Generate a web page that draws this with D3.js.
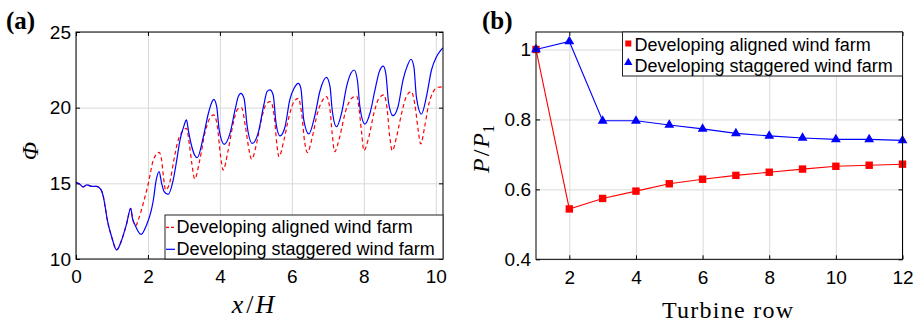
<!DOCTYPE html>
<html>
<head>
<meta charset="utf-8">
<script src="https://cdn.jsdelivr.net/npm/d3@7"></script>
<style>
  body { margin: 0; background: #fff; }
  svg { display: block; }
  .tick text { font-family: "Liberation Sans", Arial, sans-serif; font-size: 19px; fill: #000; }
</style>
</head>
<body>
<div id="chart"></div>
<script>
// ---- panel (a): Phi along x/H ----
const xStaggered = [0, 0.1, 0.2, 0.3, 0.44, 0.57, 0.69, 0.76, 0.81, 0.87, 0.99, 1.13, 1.27, 1.41, 1.52, 1.57, 1.64, 1.81, 1.96, 2.08,
  2.15, 2.22, 2.31, 2.38, 2.45, 2.56, 2.7, 2.8, 2.89, 3.0, 3.07, 3.13, 3.2, 3.3, 3.37, 3.54, 3.68, 3.77, 3.83, 3.91,
  3.98, 4.12, 4.28, 4.42, 4.51, 4.58, 4.67, 4.76, 4.9, 5.06, 5.22, 5.31, 5.39, 5.48, 5.56, 5.67, 5.81, 5.94, 6.06, 6.18,
  6.25, 6.33, 6.47, 6.64, 6.78, 6.96, 7.06, 7.12, 7.24, 7.38, 7.52, 7.64, 7.73, 7.82, 7.89, 8.03, 8.17, 8.31, 8.43, 8.54,
  8.61, 8.69, 8.81, 8.95, 9.09, 9.2, 9.31, 9.39, 9.46, 9.6, 9.74, 9.88, 10.02, 10.13, 10.2];
const phiStaggered = [15.07, 14.95, 14.76, 14.9, 14.8, 14.8, 14.6, 14.12, 13.46, 12.58, 11.47, 10.6, 11.26, 12.36, 13.35, 12.69, 12.25, 11.63, 12.25, 13.1,
  13.9, 15.1, 15.77, 15.0, 14.45, 14.27, 15.2, 16.54, 17.86, 18.8, 19.19, 18.4, 17.6, 16.85, 16.69, 18.08, 19.63, 20.33, 20.55, 20.07,
  18.52, 17.58, 18.3, 19.85, 20.73, 20.95, 20.62, 18.74, 17.64, 18.3, 20.18, 21.06, 21.17, 20.84, 18.96, 18.13, 18.74, 20.5, 21.28, 21.61,
  21.28, 19.19, 18.26, 19.5, 21.1, 22.0, 21.39, 19.85, 18.74, 19.63, 21.39, 22.27, 22.49, 21.83, 20.07, 18.92, 19.63, 21.17, 22.38, 22.75,
  22.27, 20.29, 19.47, 20.07, 21.83, 22.71, 23.2, 22.71, 20.73, 19.58, 20.73, 22.49, 23.37, 23.77, 23.95];

const xAligned = [0, 0.1, 0.2, 0.3, 0.44, 0.57, 0.69, 0.76, 0.81, 0.87, 0.99, 1.13, 1.27, 1.41, 1.52, 1.57, 1.66, 1.73, 1.87, 2.01,
  2.15, 2.31, 2.38, 2.43, 2.49, 2.61, 2.72, 2.84, 2.95, 3.07, 3.15, 3.22, 3.3, 3.44, 3.58, 3.72, 3.83, 3.93, 4.02, 4.09,
  4.23, 4.37, 4.49, 4.6, 4.71, 4.81, 4.88, 5.02, 5.16, 5.3, 5.41, 5.51, 5.59, 5.64, 5.78, 5.92, 6.06, 6.18, 6.27, 6.36,
  6.43, 6.57, 6.71, 6.81, 6.96, 7.06, 7.12, 7.19, 7.33, 7.49, 7.66, 7.8, 7.87, 7.94, 8.0, 8.14, 8.28, 8.42, 8.56, 8.65,
  8.72, 8.79, 8.91, 9.05, 9.18, 9.32, 9.42, 9.51, 9.58, 9.69, 9.79, 9.93, 10.06, 10.2];
const phiAligned = [15.07, 14.95, 14.76, 14.9, 14.8, 14.8, 14.6, 14.12, 13.46, 12.58, 11.47, 10.6, 11.26, 12.36, 13.35, 12.69, 12.2, 12.58, 13.68, 15.0,
  16.54, 17.05, 16.54, 15.44, 14.56, 15.1, 16.54, 17.86, 18.4, 18.64, 17.6, 16.3, 15.29, 16.54, 18.3, 19.3, 19.52, 18.74, 16.76, 15.88,
  17.2, 18.96, 19.89, 20.0, 18.74, 17.2, 16.59, 17.64, 19.3, 20.29, 20.4, 19.41, 17.42, 16.76, 17.86, 19.41, 20.4, 20.62, 19.63, 17.64,
  17.03, 18.08, 19.63, 20.29, 20.73, 19.85, 18.3, 17.09, 18.08, 19.74, 20.62, 20.77, 19.85, 18.3, 17.16, 18.08, 19.63, 20.62, 20.84, 19.85,
  18.08, 17.16, 18.08, 19.63, 20.73, 21.06, 20.18, 18.52, 17.6, 18.74, 20.07, 21.06, 21.35, 21.38];

const xTicksA = [0, 2, 4, 6, 8, 10];
const yTicksA = [10, 15, 20, 25];

// ---- panel (b): P/P1 per turbine row ----
const turbineRows = [1, 2, 3, 4, 5, 6, 7, 8, 9, 10, 11, 12];
const powerAligned = [1.0, 0.544, 0.574, 0.595, 0.616, 0.629, 0.640, 0.649, 0.658, 0.666, 0.669, 0.672];
const powerStaggered = [1.0, 1.023, 0.796, 0.796, 0.784, 0.773, 0.760, 0.753, 0.747, 0.743, 0.743, 0.740];
const xTicksB = [2, 4, 6, 8, 10, 12];
const yTicksB = [0.4, 0.6, 0.8, 1];

const seriesNames = ["Developing aligned wind farm", "Developing staggered wind farm"];

const width = 923, height = 325;
const RED = "#ff0000", BLUE = "#0000ff";

const svg = d3.select("#chart").append("svg")
    .attr("width", width)
    .attr("height", height);

// draws grid, inward ticks on all 4 sides, labels and the box
function drawFrame(x, y, xTicks, yTicks, yFmt, id) {
    const [x0, x1] = x.range();
    const [y0, y1] = y.range(); // y0 bottom, y1 top
    const g = svg.append("g");

    // grid
    g.append("g").attr("transform", `translate(0,${y0})`)
        .call(d3.axisBottom(x).tickValues(xTicks).tickSize(-(y0 - y1)).tickFormat(""))
        .call(s => s.select(".domain").remove())
        .call(s => s.selectAll("line").attr("stroke", "#d9d9d9"));
    g.append("g").attr("transform", `translate(${x0},0)`)
        .call(d3.axisLeft(y).tickValues(yTicks).tickSize(-(x1 - x0)).tickFormat(""))
        .call(s => s.select(".domain").remove())
        .call(s => s.selectAll("line").attr("stroke", "#d9d9d9"));

    // ticks + labels
    g.append("g").attr("transform", `translate(0,${y0})`)
        .call(d3.axisBottom(x).tickValues(xTicks).tickSize(-4).tickPadding(11))
        .call(s => s.select(".domain").remove());
    g.append("g").attr("transform", `translate(0,${y1})`)
        .call(d3.axisTop(x).tickValues(xTicks).tickSize(-4).tickFormat(""))
        .call(s => s.select(".domain").remove());
    g.append("g").attr("transform", `translate(${x0},0)`)
        .call(d3.axisLeft(y).tickValues(yTicks).tickSize(-4).tickPadding(5).tickFormat(yFmt))
        .call(s => s.select(".domain").remove());
    g.append("g").attr("transform", `translate(${x1},0)`)
        .call(d3.axisRight(y).tickValues(yTicks).tickSize(-4).tickFormat(""))
        .call(s => s.select(".domain").remove());

    svg.append("clipPath").attr("id", id)
        .append("rect").attr("x", x0).attr("y", y1).attr("width", x1 - x0).attr("height", y0 - y1);
    return g;
}

function drawBox(x, y) {
    const [x0, x1] = x.range();
    const [y0, y1] = y.range();
    svg.append("rect")
        .attr("x", x0).attr("y", y1)
        .attr("width", x1 - x0).attr("height", y0 - y1)
        .attr("fill", "none").attr("stroke", "#000").attr("stroke-width", 1);
}

// ================= panel (a) =================
const xa = d3.scaleLinear().domain([0, 10.2]).range([76, 443]);
const ya = d3.scaleLinear().domain([10, 25]).range([259, 32]);
drawFrame(xa, ya, xTicksA, yTicksA, d3.format("d"), "clipA");

const lineA = d3.line().curve(d3.curveMonotoneX);
svg.append("path")
    .attr("clip-path", "url(#clipA)")
    .attr("d", lineA(xAligned.map((v, i) => [xa(v), ya(phiAligned[i])])))
    .attr("fill", "none").attr("stroke", RED).attr("stroke-width", 1.2)
    .attr("stroke-dasharray", "4,3");
svg.append("path")
    .attr("clip-path", "url(#clipA)")
    .attr("d", lineA(xStaggered.map((v, i) => [xa(v), ya(phiStaggered[i])])))
    .attr("fill", "none").attr("stroke", BLUE).attr("stroke-width", 1.2);

drawBox(xa, ya);

// legend (a)
const legA = svg.append("g");
legA.append("rect").attr("x", 165).attr("y", 215).attr("width", 278).attr("height", 44)
    .attr("fill", "#fff").attr("stroke", "#222").attr("stroke-width", 1);
legA.append("line").attr("x1", 166).attr("x2", 175).attr("y1", 227.3).attr("y2", 227.3)
    .attr("stroke", RED).attr("stroke-width", 1.2).attr("stroke-dasharray", "3,2");
legA.append("line").attr("x1", 166).attr("x2", 175).attr("y1", 249.3).attr("y2", 249.3)
    .attr("stroke", BLUE).attr("stroke-width", 1.2);
legA.selectAll("text.lg").data(seriesNames).join("text")
    .attr("x", 176.5).attr("y", (d, i) => 233 + i * 21.5)
    .style("font-family", "Liberation Sans, Arial, sans-serif").style("font-size", "18px")
    .text(d => d);

// ================= panel (b) =================
const xb = d3.scaleLinear().domain([1, 12]).range([536, 902.5]);
const yb = d3.scaleLinear().domain([0.4, 1.05]).range([259.3, 32]);
drawFrame(xb, yb, xTicksB, yTicksB, d => d === 1 ? "1" : d3.format(".1f")(d), "clipB");

const lineB = d3.line();
svg.append("path")
    .attr("d", lineB(turbineRows.map((r, i) => [xb(r), yb(powerAligned[i])])))
    .attr("fill", "none").attr("stroke", RED).attr("stroke-width", 1.1);
svg.append("g").selectAll("rect")
    .data(turbineRows.map((r, i) => [r, powerAligned[i]]))
    .join("rect")
    .attr("x", d => xb(d[0]) - 3.7).attr("y", d => yb(d[1]) - 3.7)
    .attr("width", 7.4).attr("height", 7.4).attr("fill", RED);

const tri = d3.symbol().type(d3.symbolTriangle).size(42);
svg.append("path")
    .attr("d", lineB(turbineRows.map((r, i) => [xb(r), yb(powerStaggered[i])])))
    .attr("fill", "none").attr("stroke", BLUE).attr("stroke-width", 1.1);
svg.append("g").selectAll("path")
    .data(turbineRows.map((r, i) => [r, powerStaggered[i]]))
    .join("path")
    .attr("transform", d => `translate(${xb(d[0])},${yb(d[1])})`)
    .attr("d", tri).attr("fill", BLUE);

drawBox(xb, yb);

// legend (b)
const legB = svg.append("g");
legB.append("rect").attr("x", 622.5).attr("y", 32).attr("width", 280).attr("height", 44)
    .attr("fill", "#fff").attr("stroke", "#222").attr("stroke-width", 1);
legB.append("rect").attr("x", 625.3).attr("y", 40.5).attr("width", 6).attr("height", 6).attr("fill", RED);
legB.append("path").attr("transform", "translate(628.3,62.5)")
    .attr("d", d3.symbol().type(d3.symbolTriangle).size(30)).attr("fill", BLUE);
legB.selectAll("text.lg").data(seriesNames).join("text")
    .attr("x", 634.5).attr("y", (d, i) => 50.5 + i * 21.5)
    .style("font-family", "Liberation Sans, Arial, sans-serif").style("font-size", "18px")
    .text(d => d);

// ================= titles =================
const serif = "Liberation Serif, 'Times New Roman', serif";

const xLab = svg.append("text").attr("x", 253).attr("y", 313)
    .attr("text-anchor", "middle")
    .style("font-family", serif).style("font-size", "26px");
xLab.append("tspan").style("font-style", "italic").text("x");
xLab.append("tspan").attr("dx", 3).text("/");
xLab.append("tspan").attr("dx", 2).style("font-style", "italic").text("H");

svg.append("text").attr("x", 727.5).attr("y", 318)
    .attr("text-anchor", "middle")
    .attr("textLength", 131).attr("lengthAdjust", "spacing")
    .style("font-family", serif).style("font-size", "24px")
    .text("Turbine row");

svg.append("text").attr("transform", "translate(38,151) rotate(-90)")
    .attr("text-anchor", "middle")
    .style("font-family", serif).style("font-size", "24px").style("font-style", "italic")
    .text("Φ");

const yLabB = svg.append("text").attr("transform", "translate(489,149) rotate(-90)")
    .attr("text-anchor", "middle")
    .style("font-family", serif).style("font-size", "24px");
yLabB.append("tspan").style("font-style", "italic").text("P");
yLabB.append("tspan").attr("dx", 2).text("/");
yLabB.append("tspan").attr("dx", 2).style("font-style", "italic").text("P");
yLabB.append("tspan").attr("dy", 5).style("font-size", "16px").text("1");

svg.append("text").attr("x", 6).attr("y", 29)
    .style("font-family", serif).style("font-size", "25px").style("font-weight", "bold")
    .text("(a)");
svg.append("text").attr("x", 482).attr("y", 29)
    .style("font-family", serif).style("font-size", "25px").style("font-weight", "bold")
    .text("(b)");
</script>
</body>
</html>
